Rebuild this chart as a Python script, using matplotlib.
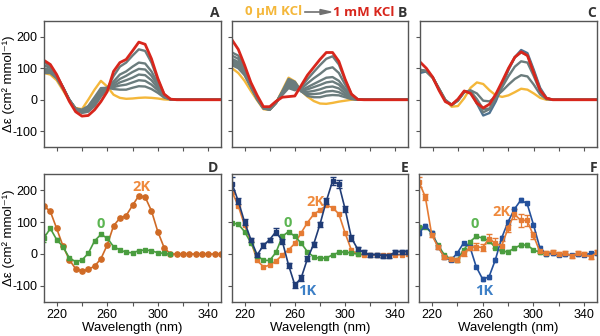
import matplotlib.pyplot as plt

plt.rcParams['font.family'] = ['Liberation Sans', 'DejaVu Sans']

# wavelengths (nm) for all spectra, 5 nm steps
wl = list(range(210, 351, 5))
wl_green = list(range(210, 311, 5))

# ---- top row: KCl titration spectra ----
a_yellow = [85, 80, 62, 30, -3, -26, -30, 0, 32, 60, 42, 16, 6, 3, 4, 6, 7, 6, 4, 1, 0, 0, 0, 0, 0, 0, 0, 0, 0]
a_grays = [
    [120, 105, 78, 40, 0, -32, -42, -38, -20, 10, 35, 75, 105, 118, 140, 160, 155, 118, 64, 18, 2, 0, 0, 0, 0, 0, 0, 0, 0],
    [110, 100, 76, 40, 0, -30, -38, -32, -12, 18, 36, 58, 80, 90, 105, 118, 115, 90, 52, 15, 2, 0, 0, 0, 0, 0, 0, 0, 0],
    [100, 95, 74, 40, 0, -30, -36, -28, -6, 24, 37, 50, 66, 76, 88, 98, 96, 76, 45, 13, 1, 0, 0, 0, 0, 0, 0, 0, 0],
    [95, 90, 72, 38, 0, -28, -34, -25, -2, 28, 37, 44, 55, 62, 70, 80, 78, 62, 37, 11, 1, 0, 0, 0, 0, 0, 0, 0, 0],
    [90, 88, 70, 36, 0, -28, -33, -22, 2, 32, 38, 40, 45, 48, 55, 62, 60, 48, 30, 9, 1, 0, 0, 0, 0, 0, 0, 0, 0],
    [85, 85, 68, 35, 0, -28, -32, -20, 8, 37, 38, 34, 32, 32, 38, 43, 42, 34, 22, 7, 1, 0, 0, 0, 0, 0, 0, 0, 0],
]
a_red = [125, 112, 80, 38, -5, -38, -52, -50, -32, -6, 26, 90, 118, 128, 155, 183, 176, 130, 68, 18, 2, 0, 0, 0, 0, 0, 0, 0, 0]

b_yellow = [100, 85, 60, 28, -2, -30, -32, -10, 30, 70, 58, 28, 10, -4, -12, -13, -10, -6, -3, 0, 0, 0, 0, 0, 0, 0, 0, 0, 0]
b_grays = [
    [150, 140, 100, 50, 8, -25, -28, -8, 15, 37, 30, 40, 65, 88, 110, 130, 138, 112, 62, 18, 2, 0, 0, 0, 0, 0, 0, 0, 0],
    [140, 130, 95, 48, 6, -25, -30, -9, 18, 42, 35, 35, 52, 68, 82, 98, 103, 85, 48, 14, 1, 0, 0, 0, 0, 0, 0, 0, 0],
    [130, 120, 90, 46, 5, -26, -30, -10, 20, 47, 40, 30, 40, 50, 60, 70, 72, 60, 35, 11, 1, 0, 0, 0, 0, 0, 0, 0, 0],
    [125, 115, 85, 45, 4, -26, -30, -10, 22, 52, 45, 28, 33, 40, 47, 55, 58, 48, 28, 9, 1, 0, 0, 0, 0, 0, 0, 0, 0],
    [120, 110, 82, 43, 3, -27, -31, -10, 24, 57, 50, 27, 25, 28, 33, 40, 42, 36, 20, 6, 0, 0, 0, 0, 0, 0, 0, 0, 0],
    [115, 105, 80, 42, 2, -27, -31, -10, 25, 62, 55, 27, 18, 18, 20, 26, 28, 24, 14, 4, 0, 0, 0, 0, 0, 0, 0, 0, 0],
    [110, 100, 78, 40, 1, -28, -32, -10, 26, 66, 57, 27, 12, 8, 8, 13, 15, 14, 8, 2, 0, 0, 0, 0, 0, 0, 0, 0, 0],
]
b_red = [190, 160, 110, 55, 14, -22, -22, -5, 8, 10, 12, 45, 78, 103, 128, 150, 150, 122, 65, 18, 1, 0, 0, 0, 0, 0, 0, 0, 0]

c_yellow = [90, 90, 70, 35, 0, -22, -20, 5, 38, 55, 50, 30, 14, 9, 14, 24, 35, 32, 20, 6, 0, 0, 0, 0, 0, 0, 0, 0, 0]
c_blue = [85, 90, 72, 36, 0, -16, -2, 25, 25, -12, -50, -42, -5, 45, 95, 135, 158, 148, 95, 38, 6, 0, 0, 0, 0, 0, 0, 0, 0]
c_grays = [
    [95, 92, 72, 34, -3, -16, 0, 27, 24, -10, -40, -30, 5, 50, 98, 135, 150, 142, 90, 33, 5, 0, 0, 0, 0, 0, 0, 0, 0],
    [95, 90, 70, 34, -2, -17, -2, 25, 27, 2, -30, -28, 5, 40, 75, 105, 122, 118, 75, 27, 4, 0, 0, 0, 0, 0, 0, 0, 0],
    [95, 90, 70, 34, -2, -17, -3, 24, 30, 20, -3, -5, 10, 28, 48, 66, 78, 74, 48, 17, 2, 0, 0, 0, 0, 0, 0, 0, 0],
]
c_red = [120, 100, 72, 30, -6, -16, 2, 28, 20, -11, -26, -14, 18, 58, 100, 135, 152, 140, 85, 30, 5, 0, 0, 0, 0, 0, 0, 0, 0]

# ---- bottom row: averaged spectra with error bars ----
d_2k = [150, 133, 80, 25, -18, -46, -53, -48, -38, -15, 28, 88, 112, 120, 152, 182, 178, 135, 70, 20, 0, 0, 0, 0, 0, 0, 0, 0, 0]
d_0 = [50, 80, 45, 23, -12, -24, -19, 2, 41, 61, 50, 23, 13, 5, 4, 10, 13, 10, 4, 2, 0]
d_0_err = [12, 5, 4, 3, 3, 3, 3, 3, 3, 3, 3, 3, 3, 3, 3, 3, 3, 3, 3, 3, 3]

e_0 = [97, 93, 70, 35, -5, -20, -20, 5, 55, 70, 55, 34, 7, -9, -14, -12, -3, 5, 7, 2, 0]
e_0_err = [4, 3, 3, 3, 3, 3, 3, 3, 3, 3, 3, 3, 3, 3, 3, 3, 3, 3, 3, 3, 3]
e_2k = [195, 150, 90, 40, -20, -40, -35, -22, -3, 13, 33, 66, 98, 124, 137, 152, 145, 125, 65, 12, -1, -2, -3, -3, -4, -4, -3, -2, 0]
e_1k = [220, 165, 100, 45, -3, 27, 45, 70, 40, -35, -97, -75, -15, 31, 93, 165, 228, 218, 140, 50, 15, 5, -3, -2, -5, -5, 7, 7, 7]
e_1k_err = [20, 10, 8, 6, 6, 8, 6, 10, 8, 8, 10, 10, 8, 8, 8, 10, 12, 12, 10, 8, 6, 6, 6, 6, 6, 6, 6, 6, 6]

f_0 = [83, 85, 65, 28, -3, -16, -19, 12, 38, 55, 50, 42, 20, 8, 7, 18, 28, 28, 13, 5, 0]
f_0_err = [6, 4, 4, 4, 4, 4, 4, 4, 4, 4, 6, 4, 4, 4, 4, 5, 6, 5, 4, 4, 4]
f_1k = [65, 88, 66, 23, -10, -19, 2, 34, 23, -40, -78, -72, -19, 50, 100, 140, 168, 158, 92, 20, 0, 2, -3, -1, -3, -1, -3, 2, 2]
f_1k_err = [6, 5, 5, 4, 4, 4, 4, 5, 5, 5, 6, 6, 5, 5, 5, 6, 6, 6, 6, 5, 4, 4, 4, 4, 4, 4, 4, 4, 4]
f_2k = [225, 178, 60, 22, -10, -16, -19, 2, 20, 23, 20, 48, 34, 25, 80, 125, 105, 105, 58, 8, 2, 7, -1, 2, -5, 2, -1, -9, 5]
f_2k_err = [15, 8, 6, 6, 6, 6, 6, 8, 8, 10, 12, 15, 15, 15, 10, 15, 20, 18, 10, 6, 6, 6, 6, 6, 6, 6, 6, 6, 6]

YELLOW = '#f4b73a'
GRAY = '#6b7c7d'
RED = '#d8261c'
BLUE_GRAY = '#4f7391'
ORANGE_D = '#cf6a25'
ORANGE = '#e57b34'
GREEN = '#4a9d3f'
NAVY = '#203c76'
BLUE_F = '#24519c'
SPINE = '#555555'

fig = plt.figure(figsize=(6, 3.36), dpi=100)
W, H = 600, 336


def make_ax(x0, x1, y0, y1):
    return fig.add_axes([x0 / W, 1 - y1 / H, (x1 - x0) / W, (y1 - y0) / H])


def style(ax, ylab, xlab):
    ax.set_xlim(210, 350)
    ax.set_ylim(-150, 250)
    ax.set_xticks(range(220, 341, 20))
    ax.set_yticks([-100, 0, 100, 200])
    for s in ax.spines.values():
        s.set_color(SPINE)
        s.set_linewidth(1.0)
    ax.tick_params(length=3, width=0.8, color=SPINE, labelsize=9, pad=2)
    if xlab:
        ax.set_xticklabels(['220', '', '260', '', '300', '', '340'])
        ax.set_xlabel('Wavelength (nm)', fontsize=9.5, labelpad=0.5)
    else:
        ax.set_xticklabels([])
    if ylab:
        ax.set_yticklabels(['-100', '0', '100', '200'])
        ax.set_ylabel('Δε (cm² mmol⁻¹)', fontsize=9.5)
        ax.yaxis.set_label_coords(-0.165, 0.5)
    else:
        ax.set_yticklabels([])


axA = make_ax(44, 221, 21, 147)
axB = make_ax(232, 408, 21, 147)
axC = make_ax(420, 597, 21, 147)
axD = make_ax(44, 221, 174, 302)
axE = make_ax(232, 408, 174, 302)
axF = make_ax(419, 597, 174, 302)

# top row
lw_top = 1.7
axA.plot(wl, a_yellow, color=YELLOW, lw=lw_top)
for g in a_grays:
    axA.plot(wl, g, color=GRAY, lw=lw_top)
axA.plot(wl, a_red, color=RED, lw=lw_top + 0.3)

axB.plot(wl, b_yellow, color=YELLOW, lw=lw_top)
for g in b_grays:
    axB.plot(wl, g, color=GRAY, lw=lw_top)
axB.plot(wl, b_red, color=RED, lw=lw_top + 0.3)

axC.plot(wl, c_yellow, color=YELLOW, lw=lw_top)
axC.plot(wl, c_blue, color=BLUE_GRAY, lw=lw_top)
for g in c_grays:
    axC.plot(wl, g, color=GRAY, lw=lw_top)
axC.plot(wl, c_red, color=RED, lw=lw_top + 0.3)

# bottom row
ms = 3.8
axD.plot(wl, d_2k, color=ORANGE_D, marker='o', ms=ms, lw=1.2)
axD.errorbar(wl_green, d_0, yerr=d_0_err, color=GREEN, marker='s', ms=ms - 0.6, lw=1.2, capsize=1.5, elinewidth=0.8)

axE.errorbar(wl_green, e_0, yerr=e_0_err, color=GREEN, marker='s', ms=ms - 0.6, lw=1.2, capsize=1.5, elinewidth=0.8)
axE.plot(wl, e_2k, color=ORANGE, marker='s', ms=ms - 0.4, lw=1.2)
axE.errorbar(wl, e_1k, yerr=e_1k_err, color=NAVY, marker='s', ms=ms - 0.6, lw=1.2, capsize=2, elinewidth=0.9)

axF.errorbar(wl_green, f_0, yerr=f_0_err, color=GREEN, marker='s', ms=ms - 0.6, lw=1.2, capsize=1.5, elinewidth=0.8)
axF.errorbar(wl, f_1k, yerr=f_1k_err, color=BLUE_F, marker='s', ms=ms - 0.6, lw=1.2, capsize=1.5, elinewidth=0.8)
axF.errorbar(wl, f_2k, yerr=f_2k_err, color=ORANGE, marker='s', ms=ms - 0.6, lw=1.2, capsize=2, elinewidth=0.9)

style(axA, True, False)
style(axB, False, False)
style(axC, False, False)
style(axD, True, True)
style(axE, False, True)
style(axF, False, True)

lab_font = dict(fontsize=10.5, fontweight='bold', family=['Open Sans', 'DejaVu Sans'], ha='center', va='center')
axD.text(287, 210, '2K', color='#ef8a3d', **lab_font)
axD.text(255, 93, '0', color='#5cb552', **lab_font)
axE.text(276, 163, '2K', color='#ef8a3d', **lab_font)
axE.text(254, 98, '0', color='#5cb552', **lab_font)
axE.text(270, -115, '1K', color='#3c7fc6', **lab_font)
axF.text(275, 130, '2K', color='#ef8a3d', **lab_font)
axF.text(254, 93, '0', color='#5cb552', **lab_font)
axF.text(261, -115, '1K', color='#3c7fc6', **lab_font)

# panel letters
pl = dict(fontsize=10, fontweight='bold', color='#333333', ha='center', va='center',
          family=['Open Sans', 'DejaVu Sans'])
for letter, x, y in [('A', 215, 13), ('B', 402, 13), ('C', 592, 13),
                     ('D', 213, 168), ('E', 405, 168), ('F', 594, 168)]:
    fig.text(x / W, 1 - y / H, letter, **pl)

# title: 0 µM KCl -> 1 mM KCl
tf = dict(fontsize=9.5, fontweight='bold', va='center', family=['Open Sans', 'DejaVu Sans'])
fig.text(302 / W, 1 - 12 / H, '0 μM KCl', color=YELLOW, ha='right', **tf)
fig.text(333 / W, 1 - 12 / H, '1 mM KCl', color=RED, ha='left', **tf)
fig.add_artist(plt.Line2D([305 / W, 322 / W], [1 - 12 / H, 1 - 12 / H], color='#707070', lw=1.2))
fig.add_artist(plt.Polygon([[320 / W, 1 - 9.5 / H], [331 / W, 1 - 12 / H], [320 / W, 1 - 14.5 / H]],
                           closed=True, color='#707070'))

fig.savefig('out.png', dpi=100)
